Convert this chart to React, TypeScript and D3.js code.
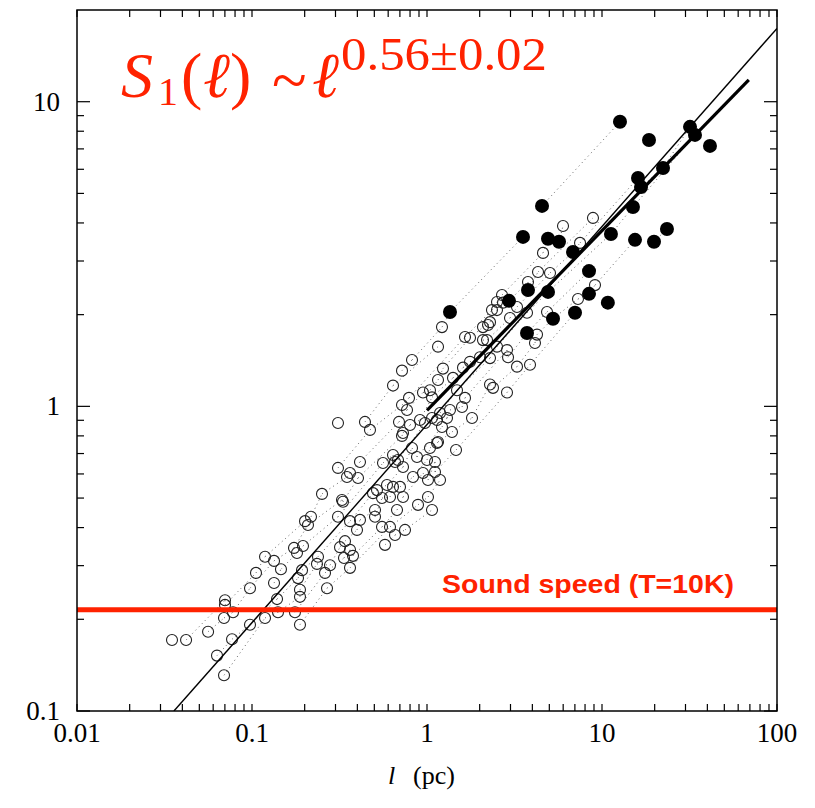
import React from "react";
import * as d3 from "d3";

// Open circles: [l (pc), S1]
const openL = [0.0349,0.042,0.0561,0.0631,0.0692,0.0769,0.0692,0.0701,0.0701,0.0779,0.0974,0.0974,0.1054,0.1187,0.1187,0.1336,0.1336,0.139,0.1408,0.1464,0.176,0.188,0.188,0.188,0.1738,0.1807,0.1931,0.1832,0.1956,0.2009,0.2173,0.2089,0.2383,0.2351,0.2683,0.2613,0.2791,0.31,0.3311,0.3184,0.3399,0.3631,0.3631,0.3355,0.3777,0.3981,0.3631,
1.218,1.156,0.821,0.7197,0.6394,1.234,1.156,1.04,1.068,0.9487,0.7891,0.7197,0.7687,0.6918,0.7293,0.7197,0.7997,0.912,0.9741,1.068,1.187,1.301,1.353,1.141,1.218,1.156,1.389,1.465,1.585,1.649,1.808,1.484,1.408,1.606,1.761,2.009,2.291,2.203,2.512,2.089,2.291,1.761,1.649,2.512,2.719,2.865,2.904,3.268,3.878,2.865,2.383,2.291,4.14,4.851,
0.31,0.4421,0.4723,0.414,0.31,0.349,0.3631,0.4034,0.2512,0.3268,0.5045,0.5045,0.6739,0.5532,0.6146,0.414,0.5179,0.5907,0.6394,0.701,0.7293,0.6146,0.5532,0.4913,0.5605,0.6394,0.6828,0.821,0.8767,1.0,1.111,1.04,1.141,0.9487,1.111,1.187,1.013,1.013,0.8318,0.7293,0.6564,
5.987,8.88,4.602,4.309,5.045,3.777,9.12,7.29,2.683,2.512,2.351,2.981,3.268,2.232,2.089,4.253,3.728,7.49,
0.6564,0.7487,0.5754,0.8884,1.068];
const openS = [0.171,0.171,0.182,0.152,0.131,0.172,0.202,0.231,0.223,0.211,0.192,0.253,0.284,0.202,0.321,0.311,0.263,0.233,0.211,0.292,0.211,0.192,0.237,0.25,0.343,0.33,0.29,0.273,0.348,0.42,0.434,0.408,0.321,0.304,0.253,0.284,0.301,0.434,0.486,0.345,0.361,0.338,0.295,0.318,0.323,0.393,0.42,
1.82,1.57,1.42,1.31,1.17,1.33,1.22,1.13,1.07,1.11,1.066,1.01,0.973,0.889,0.818,0.8,0.869,0.902,0.882,0.916,0.951,0.916,0.973,0.902,0.856,0.764,0.824,0.719,0.995,1.066,0.916,1.13,1.24,1.34,1.4,1.45,1.44,1.65,1.57,1.82,1.89,1.68,1.69,2.07,2.19,1.53,1.45,1.35,1.37,1.11,1.15,1.18,1.615,2.04,
0.882,0.889,0.837,0.657,0.628,0.586,0.604,0.582,0.516,0.493,0.457,0.434,0.457,0.402,0.402,0.424,0.531,0.552,0.544,0.544,0.504,0.504,0.5,0.519,0.652,0.692,0.667,0.73,0.682,0.667,0.657,0.73,0.758,0.604,0.609,0.573,0.573,0.504,0.586,0.632,0.657,
3.91,4.155,3.19,2.76,2.74,2.56,2.5,2.25,2.32,2.2,2.07,1.95,2.12,1.85,1.65,1.72,2.03,3.44,
0.378,0.393,0.351,0.475,0.457];

// Filled circles: [l (pc), S1]
const filledL = [12.67,18.56,31.84,33.99,41.4,22.32,16.06,16.71,4.542,15.03,3.537,4.914,5.68,11.25,15.44,19.82,23.51,6.83,8.43,3.777,4.914,8.43,10.8,2.942,7.01,5.248,1.353,3.728];
const filledS = [8.59,7.49,8.27,7.78,7.16,6.06,5.62,5.25,4.55,4.51,3.6,3.55,3.47,3.68,3.52,3.47,3.82,3.21,2.78,2.41,2.375,2.34,2.19,2.22,2.03,1.94,2.04,1.74];

// Fit lines (end points)
const thinFitL = [0.0358, 100];
const thinFitS = [0.1, 17.4];
const thickFitL = [1.0, 69];
const thickFitS = [0.97, 11.8];

const soundSpeed = 0.215;

const xTickValues = [0.01, 0.1, 1, 10, 100];
const xTickLabels = ["0.01", "0.1", "1", "10", "100"];
const yTickValues = [0.1, 1, 10];
const yTickLabels = ["0.1", "1", "10"];

const RED = "#ff2200";

export default function App() {
  const W = 815, H = 808;
  const L = 77, R = 777, T = 10, B = 711;
  const x = d3.scaleLog().domain([0.01, 100]).range([L, R]);
  const y = d3.scaleLog().domain([0.1, 20]).range([B, T]);

  const openPts: [number, number][] = openL.map((l, i) => [l, openS[i]]);
  const filledPts: [number, number][] = filledL.map((l, i) => [l, filledS[i]]);
  const all = [...openPts, ...filledPts];

  // dotted connections: points linked along the trend within residual bands
  const bands = d3.group(all, (p) => Math.round((Math.log10(p[1]) - 0.6 * Math.log10(p[0])) / 0.055));
  const segs: [number, number][][] = [];
  for (const [, pts] of bands) {
    const s = [...pts].sort((a, b) => a[0] - b[0]);
    for (let i = 1; i < s.length; i++) {
      if (Math.log10(s[i][0] / s[i - 1][0]) < 0.45) segs.push([s[i - 1], s[i]]);
    }
  }

  const line = d3.line<[number, number]>().x((d) => x(d[0])).y((d) => y(d[1]));

  const xMinor: number[] = [];
  for (const dec of [0.01, 0.1, 1, 10]) for (let k = 2; k <= 9; k++) xMinor.push(dec * k);
  const yMinor: number[] = [];
  for (const dec of [0.1, 1]) for (let k = 2; k <= 9; k++) yMinor.push(dec * k);

  const serif = "'Liberation Serif', 'Times New Roman', serif";

  return (
    <svg width={W} height={H} style={{ position: "absolute", left: 0, top: 0, background: "#fff" }}>
      <rect x={0} y={0} width={W} height={H} fill="#fff" />
      {/* dotted links */}
      <g stroke="#222" strokeWidth={1} strokeDasharray="1 3.5" strokeOpacity={0.7} fill="none">
        {segs.map((s, i) => (
          <path key={i} d={line(s) || ""} />
        ))}
      </g>
      {/* open circles */}
      <g fill="none" stroke="#222" strokeWidth={1.1}>
        {openPts.map((p, i) => (
          <circle key={i} cx={x(p[0])} cy={y(p[1])} r={5.5} />
        ))}
      </g>
      {/* filled circles */}
      <g fill="#000">
        {filledPts.map((p, i) => (
          <circle key={i} cx={x(p[0])} cy={y(p[1])} r={7} />
        ))}
      </g>
      {/* fit lines */}
      <clipPath id="plotclip">
        <rect x={L} y={T} width={R - L} height={B - T} />
      </clipPath>
      <path clipPath="url(#plotclip)" d={line(thinFitL.map((l, i) => [l, thinFitS[i]]) as [number, number][]) || ""} stroke="#000" strokeWidth={1.4} fill="none" />
      <path d={line(thickFitL.map((l, i) => [l, thickFitS[i]]) as [number, number][]) || ""} stroke="#000" strokeWidth={3.2} fill="none" />
      {/* sound speed */}
      <line x1={L} x2={R} y1={y(soundSpeed)} y2={y(soundSpeed)} stroke={RED} strokeWidth={5} />
      <text x={442} y={593} fill={RED} fontFamily="'Liberation Sans', Arial, sans-serif" fontWeight="bold" fontSize={26} textLength={292} lengthAdjust="spacingAndGlyphs">
        Sound speed (T=10K)
      </text>
      {/* frame */}
      <rect x={L} y={T} width={R - L} height={B - T} fill="none" stroke="#000" strokeWidth={1.5} />
      {/* ticks */}
      <g stroke="#000" strokeWidth={1.2}>
        {xTickValues.concat(xMinor).map((v, i) => (
          <g key={"xt" + i}>
            <line x1={x(v)} x2={x(v)} y1={B} y2={B - 7} />
            <line x1={x(v)} x2={x(v)} y1={T} y2={T + 7} />
          </g>
        ))}
        {yTickValues.map((v, i) => (
          <g key={"ym" + i}>
            <line x1={L} x2={L + 13} y1={y(v)} y2={y(v)} />
            <line x1={R} x2={R - 13} y1={y(v)} y2={y(v)} />
          </g>
        ))}
        {yMinor.map((v, i) => (
          <g key={"yn" + i}>
            <line x1={L} x2={L + 7} y1={y(v)} y2={y(v)} />
            <line x1={R} x2={R - 7} y1={y(v)} y2={y(v)} />
          </g>
        ))}
      </g>
      {/* tick labels */}
      <g fontFamily={serif} fontSize={27} fill="#000">
        {xTickValues.map((v, i) => (
          <text key={"xl" + i} x={x(v)} y={742} textAnchor="middle">
            {xTickLabels[i]}
          </text>
        ))}
        {yTickValues.map((v, i) => (
          <text key={"yl" + i} x={60} y={y(v) + 9} textAnchor="end">
            {yTickLabels[i]}
          </text>
        ))}
      </g>
      {/* x axis title */}
      <text x={388} y={784} fontFamily={serif} fontSize={26} fill="#000">
        <tspan fontStyle="italic">l</tspan>
        <tspan x={413}>(pc)</tspan>
      </text>
      {/* formula */}
      <g fill={RED} fontFamily={serif}>
        <text x={121} y={97} fontSize={64} fontStyle="italic">S</text>
        <text x={158} y={105} fontSize={40}>1</text>
        <text x={181} y={97} fontSize={64}>(</text>
        <text x={203} y={97} fontSize={64} fontStyle="italic">ℓ</text>
        <text x={230} y={97} fontSize={64}>)</text>
        <text x={272} y={102} fontSize={64}>~</text>
        <text x={312} y={97} fontSize={64} fontStyle="italic">ℓ</text>
        <text x={341} y={70} fontSize={47} textLength={206} lengthAdjust="spacingAndGlyphs">0.56±0.02</text>
      </g>
    </svg>
  );
}
